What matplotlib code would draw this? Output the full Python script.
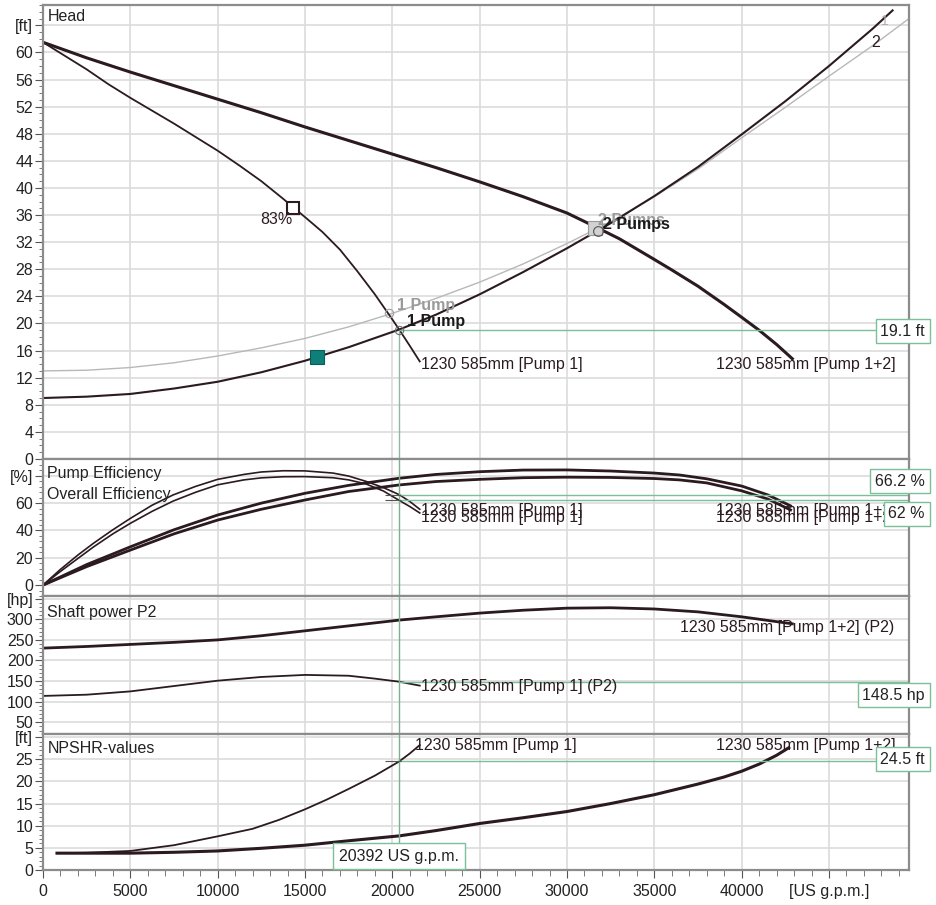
import matplotlib
matplotlib.use("Agg")
import matplotlib.pyplot as plt
from matplotlib.ticker import MultipleLocator

plt.rcParams['font.family'] = ['Liberation Sans', 'DejaVu Sans']

# ---- data ----
# head curves [US gpm, ft]
p1_head_q = [0, 1250, 2500, 3750, 5000, 6250, 7500, 8750, 10000, 11250, 12500, 13750,
             15000, 16000, 17000, 18000, 19000, 20000, 20392, 21000, 21570]
p1_head_h = [61.5, 59.5, 57.5, 55.3, 53.3, 51.4, 49.5, 47.5, 45.5, 43.3, 41.0, 38.4,
             35.7, 33.5, 30.9, 27.7, 24.3, 20.6, 19.1, 16.7, 14.4]

p12_head_q = [0, 2500, 5000, 7500, 10000, 12500, 15000, 17500, 20000, 22500, 25000, 27500,
              30000, 31600, 33000, 34900, 36000, 37500, 39000, 40060, 41000, 42000, 42900]
p12_head_h = [61.5, 59.2, 57.1, 55.1, 53.1, 51.1, 49.0, 47.0, 45.0, 43.0, 40.9, 38.7,
              36.3, 34.3, 32.5, 29.6, 27.9, 25.5, 22.8, 20.8, 19.0, 16.9, 14.8]

sys_q = [0, 2500, 5000, 7500, 10000, 12500, 15000, 17500, 20392, 22500, 25000, 27500,
         30000, 32500, 35000, 37500, 40000, 42500, 45000, 47500, 48640]
sys_h = [9.0, 9.2, 9.6, 10.4, 11.4, 12.8, 14.5, 16.5, 19.1, 21.3, 24.3, 27.6,
         31.1, 34.8, 38.8, 43.1, 47.9, 52.8, 58.0, 63.5, 66.2]

sys2_q = [0, 2500, 5000, 7500, 10000, 12500, 15000, 17500, 20000, 22500, 25000, 27500,
          30000, 32500, 35000, 37500, 40000, 42500, 45000, 47500, 49580]
sys2_h = [13.0, 13.1, 13.5, 14.2, 15.2, 16.4, 17.8, 19.5, 21.5, 23.7, 26.1, 28.8,
          31.8, 35.0, 38.7, 42.8, 47.4, 51.9, 56.5, 61.0, 65.0]

# efficiency curves [%]
p1_eff_q = [0, 1000, 2000, 2900, 4000, 5000, 6250, 7450, 8750, 10000, 11500, 12500, 13750,
            15000, 16600, 17500, 18500, 19500, 20392, 21000, 21570]
p1_eff_pump = [0, 11.5, 22, 30.7, 40.5, 48.8, 58.5, 66.0, 72.3, 77.4, 81.0, 82.8, 83.7,
               83.6, 82.0, 79.8, 75.9, 71.3, 66.2, 61.2, 55.5]
p1_eff_all = [0, 10, 19.5, 28, 37.5, 45.2, 54, 61.5, 68.0, 73.4, 77.0, 78.5, 79.3,
              79.4, 78.6, 77.0, 74.0, 68.8, 62.0, 57.5, 52.8]

p12_eff_q = [0, 2500, 5000, 7500, 10000, 12500, 15000, 17500, 20392, 22500, 25000, 27500,
             30000, 32500, 35000, 36440, 38000, 40000, 41500, 42800]
p12_eff_pump = [0, 15, 28, 40.5, 51.3, 60, 67.2, 73, 78.2, 81, 83, 84.2,
                84.3, 83.5, 82, 80.6, 77.8, 72.5, 66.0, 58]
p12_eff_all = [0, 13.5, 25.6, 37.5, 47.6, 55.5, 62.3, 68.5, 73.3, 75.8, 77.4, 78.6,
               79, 78.8, 78, 77, 74.8, 69, 63.0, 55]

# shaft power [hp]
p1_pow_q = [0, 2500, 5000, 7500, 10000, 12500, 15000, 17500, 19000, 20392, 21570]
p1_pow = [114, 117, 125, 138, 151, 160, 165, 163, 156, 148.5, 139]

p12_pow_q = [0, 2500, 5000, 7500, 10000, 12500, 15000, 17500, 20392, 22500, 25000, 27500,
             30000, 32500, 35000, 37500, 40000, 42900]
p12_pow = [230, 234, 239, 244, 250, 260, 272, 284, 298, 306, 315, 322,
           327, 328, 325, 318, 306, 289]

# NPSHR [ft]
p1_npsh_q = [800, 2500, 5000, 7500, 10000, 12000, 13500, 15000, 16250, 17500, 19000, 20392, 21000, 21570]
p1_npsh = [3.8, 3.9, 4.3, 5.6, 7.6, 9.3, 11.3, 13.7, 15.9, 18.3, 21.3, 24.5, 26.3, 28.2]

p12_npsh_q = [800, 5000, 7500, 10000, 12500, 15000, 17500, 20392, 22500, 25000, 27500,
              30000, 32500, 35000, 37500, 39000, 40000, 41000, 42000, 42700]
p12_npsh = [3.8, 3.8, 4.0, 4.3, 4.9, 5.6, 6.6, 7.7, 8.9, 10.5, 11.8,
            13.2, 15.0, 17.0, 19.4, 21.0, 22.3, 23.9, 25.9, 27.6]

# operating points
op_flow = 20392
op_head = 19.1
op_eff = [66.2, 62.0]
op_power = 148.5
op_npsh = 24.5
op1_gray = (19810, 21.5)
op2 = (31600, 34.1)
bep_pt = (14285, 37.0)
dot_pt = (15690, 15.1)

x_ticks = [0, 5000, 10000, 15000, 20000, 25000, 30000, 35000, 40000, 45000]
x_labels = ['0', '5000', '10000', '15000', '20000', '25000', '30000', '35000', '40000', '[US g.p.m.]']

# ---- styling ----
W, H = 937, 905
dark = '#2b1a20'
grid_c = '#dcdcdc'
green = '#7cc09a'
spine_c = '#8c8c8c'
xmax = 49580


def fx(px):
    return px / W


def fy(py):
    return 1 - py / H


fig = plt.figure(figsize=(W / 100, H / 100), dpi=100)


def panel(top, bottom, ylim, yticks, ylabels, minor):
    ax = fig.add_axes([fx(43), fy(bottom), fx(909) - fx(43), (bottom - top) / H])
    ax.set_xlim(0, xmax)
    ax.set_ylim(*ylim)
    ax.set_yticks(yticks)
    ax.set_yticklabels(ylabels)
    ax.yaxis.set_minor_locator(MultipleLocator(minor))
    ax.set_xticks(x_ticks)
    ax.xaxis.set_minor_locator(MultipleLocator(1000))
    ax.grid(True, which='major', color=grid_c, lw=1.2)
    ax.set_axisbelow(True)
    for s in ax.spines.values():
        s.set_color(spine_c)
        s.set_linewidth(1.6)
    ax.tick_params(axis='y', which='major', length=6, width=0.8, color='#555555',
                   labelsize=11.5, pad=1, labelcolor='#222222')
    ax.tick_params(axis='y', which='minor', length=3, width=0.6, color='#666666')
    ax.tick_params(axis='x', which='both', bottom=False, labelbottom=False)
    return ax


ax1 = panel(5, 459, (0.2, 67), list(range(0, 65, 4)),
            [str(v) for v in range(0, 61, 4)] + ['[ft]'], 1)
ax2 = panel(459, 596, (-8, 92.3), [0, 20, 40, 60, 80], ['0', '20', '40', '60', '[%]'], 4)
ax3 = panel(596, 734, (21.6, 356.5), [50, 100, 150, 200, 250, 300, 350],
            ['50', '100', '150', '200', '250', '300', '[hp]'], 10)
ax4 = panel(734, 870, (0.2, 30.7), [0, 5, 10, 15, 20, 25, 30],
            ['0', '5', '10', '15', '20', '25', '[ft]'], 1)
ax4.set_xticklabels(x_labels)
ax4.tick_params(axis='x', which='major', bottom=True, labelbottom=True, length=6, width=0.8,
                color='#555555', labelsize=11.5, labelcolor='#222222', pad=4)
ax4.tick_params(axis='x', which='minor', bottom=True, length=4, width=0.6, color='#666666')

# ---- head panel ----
ax1.plot(sys2_q, sys2_h, color='#b8b8b8', lw=1.0)
ax1.plot(sys_q, sys_h, color=dark, lw=1.5)
ax1.plot(p1_head_q, p1_head_h, color=dark, lw=1.3)
ax1.plot(p12_head_q, p12_head_h, color=dark, lw=2.2)
ax1.vlines(op_flow, 0, op_head, color='#8fb8a2', lw=1.0)
ax1.hlines(op_head, op_flow, xmax, color=green, lw=1.0)
ax1.plot(*bep_pt, marker='s', ms=8.5, mfc='white', mec=dark, mew=1.5)
ax1.plot(*dot_pt, marker='s', ms=10, mfc='#0f7f7a', mec='#0b5c58', mew=0.8)
ax1.plot(*op1_gray, marker='o', ms=6, mfc='none', mec='#a0a0a0', mew=0.8)
ax1.plot(op_flow, op_head, marker='o', ms=6, mfc='none', mec='#707070', mew=0.8)
ax1.plot(*op2, marker='s', ms=10, mfc='#d2d2d2', mec='#999999', mew=0.8)
ax1.plot(op2[0] + 150, op2[1] - 0.5, marker='o', ms=7, mfc='none', mec='#555555', mew=0.8)
ax1.text(14300, 35.3, '83%', ha='right', va='center', fontsize=11.5, color=dark)
ax1.text(20250, 22.6, '1 Pump', ha='left', va='center', fontsize=11.5,
         fontweight='bold', color='#9a9a9a')
ax1.text(20820, 20.3, '1 Pump', ha='left', va='center', fontsize=11.5,
         fontweight='bold', color='#1a1a1a')
ax1.text(31750, 35.2, '2 Pumps', ha='left', va='center', fontsize=11.5,
         fontweight='bold', color='#9a9a9a')
ax1.text(32040, 34.6, '2 Pumps', ha='left', va='center', fontsize=11.5,
         fontweight='bold', color='#1a1a1a')
ax1.text(48200, 64.6, '1', ha='center', va='center', fontsize=10, color='#b0b0b0')
ax1.text(47660, 61.5, '2', ha='center', va='center', fontsize=11.5, color=dark)
ax1.text(21640, 13.9, '1230 585mm [Pump 1]', ha='left', va='center', fontsize=11.5, color=dark)
ax1.text(38530, 13.9, '1230 585mm [Pump 1+2]', ha='left', va='center', fontsize=11.5, color=dark)
ax1.text(0.005, 0.991, 'Head', transform=ax1.transAxes, ha='left', va='top',
         fontsize=11.5, color='#222222')

# ---- efficiency panel ----
ax2.plot(p1_eff_q, p1_eff_pump, color=dark, lw=1.2)
ax2.plot(p1_eff_q, p1_eff_all, color=dark, lw=1.2)
ax2.plot(p12_eff_q, p12_eff_pump, color=dark, lw=2.0)
ax2.plot(p12_eff_q, p12_eff_all, color=dark, lw=2.0)
ax2.axvline(op_flow, color='#7fae95', lw=1.0)
for v in op_eff:
    ax2.hlines(v, op_flow, xmax, color=green, lw=1.0)
    ax2.plot(op_flow - 350, v, marker='_', ms=11, color='#555555', mew=0.8)
for yv in (54.9, 49.8):
    ax2.text(21640, yv, '1230 585mm [Pump 1]', ha='left', va='center', fontsize=11.5, color=dark)
    ax2.text(38530, yv, '1230 585mm [Pump 1+2]', ha='left', va='center', fontsize=11.5, color=dark)
ax2.text(0.005, 0.949, 'Pump Efficiency', transform=ax2.transAxes, ha='left', va='top',
         fontsize=11.5, color='#222222')
ax2.text(0.005, 0.796, 'Overall Efficiency', transform=ax2.transAxes, ha='left', va='top',
         fontsize=11.5, color='#222222')

# ---- shaft power panel ----
ax3.plot(p12_pow_q, p12_pow, color=dark, lw=2.0)
ax3.plot(p1_pow_q, p1_pow, color=dark, lw=1.3)
ax3.axvline(op_flow, color='#7fae95', lw=1.0)
ax3.hlines(op_power, op_flow, xmax, color=green, lw=1.0)
ax3.text(21640, 138, '1230 585mm [Pump 1] (P2)', ha='left', va='center', fontsize=11.5, color=dark)
ax3.text(36470, 279, '1230 585mm [Pump 1+2] (P2)', ha='left', va='center', fontsize=11.5, color=dark)
ax3.text(0.005, 0.935, 'Shaft power P2', transform=ax3.transAxes, ha='left', va='top',
         fontsize=11.5, color='#222222')

# ---- NPSH panel ----
ax4.plot(p1_npsh_q, p1_npsh, color=dark, lw=1.3)
ax4.plot(p12_npsh_q, p12_npsh, color=dark, lw=2.2)
ax4.axvline(op_flow, color='#7fae95', lw=1.0)
ax4.hlines(op_npsh, op_flow, xmax, color=green, lw=1.0)
ax4.plot(op_flow - 350, op_npsh, marker='_', ms=11, color='#555555', mew=0.8)
ax4.text(21300, 28, '1230 585mm [Pump 1]', ha='left', va='center', fontsize=11.5, color=dark)
ax4.text(38530, 28, '1230 585mm [Pump 1+2]', ha='left', va='center', fontsize=11.5, color=dark)
ax4.text(0.005, 0.949, 'NPSHR-values', transform=ax4.transAxes, ha='left', va='top',
         fontsize=11.5, color='#222222')

# ---- value boxes ----
box = dict(boxstyle='square,pad=0.3', fc='white', ec=green, lw=1.0)
for txt, py in [(f'{op_head} ft', 331), (f'{op_eff[0]} %', 481), (f'{op_eff[1]:g} %', 514),
                (f'{op_power} hp', 695), (f'{op_npsh} ft', 759)]:
    fig.text(fx(925), fy(py), txt, ha='right', va='center', fontsize=11.5,
             color='#222222', bbox=box, zorder=10)
fig.text(fx(399), fy(856), f'{op_flow} US g.p.m.', ha='center', va='center', fontsize=11.5,
         color='#222222', bbox=dict(boxstyle='square,pad=0.35', fc='white', ec=green, lw=1.0),
         zorder=10)

fig.savefig('out.png', dpi=100)
